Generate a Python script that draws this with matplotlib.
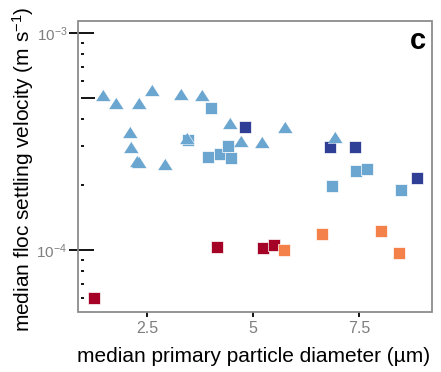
import matplotlib
matplotlib.use('Agg')
import matplotlib.pyplot as plt
from matplotlib.ticker import FixedLocator, NullFormatter, FixedFormatter
from matplotlib.patches import Rectangle

plt.rcParams['font.family'] = ['Liberation Sans', 'DejaVu Sans']
plt.rcParams['mathtext.fontset'] = 'custom'
plt.rcParams['mathtext.rm'] = 'Liberation Sans'
plt.rcParams['mathtext.it'] = 'Liberation Sans:italic'

# light blue triangles
tri_x = [1.46, 1.75, 2.30, 2.61, 3.30, 3.78, 4.46, 2.08, 2.11, 2.25, 2.30,
         2.92, 3.44, 4.71, 5.20, 5.74, 6.94]
tri_v = [5.18e-4, 4.74e-4, 4.77e-4, 5.46e-4, 5.24e-4, 5.15e-4, 3.85e-4,
         3.51e-4, 2.99e-4, 2.58e-4, 2.55e-4, 2.49e-4, 3.27e-4, 3.18e-4,
         3.15e-4, 3.70e-4, 3.31e-4]

# light blue squares
lb_x = [4.00, 3.45, 3.92, 4.22, 4.41, 4.47, 7.43, 7.68, 6.87, 8.49]
lb_v = [4.50e-4, 3.20e-4, 2.67e-4, 2.77e-4, 3.01e-4, 2.65e-4, 2.31e-4,
        2.35e-4, 1.98e-4, 1.89e-4]

# dark blue squares
db_x = [4.81, 6.81, 7.39, 8.86]
db_v = [3.69e-4, 2.99e-4, 2.97e-4, 2.14e-4]

# dark red squares
dr_x = [4.14, 5.24, 5.48, 1.24]
dr_v = [1.029e-4, 1.026e-4, 1.054e-4, 5.99e-5]

# orange squares
or_x = [5.73, 6.63, 8.01, 8.44]
or_v = [1.00e-4, 1.18e-4, 1.22e-4, 9.72e-5]

x_ticks = [2.5, 5, 7.5]
x_tick_labels = ['2.5', '5', '7.5']
y_ticks = [1e-4, 1e-3]
y_tick_labels = [r'$10^{-4}$', r'$10^{-3}$']

light_blue = '#6ba6d0'
dark_blue = '#2f3f96'
dark_red = '#a50026'
orange = '#f4814a'
grey = '#7f7f7f'

tri_marker = [(-1, -0.78), (1, -0.78), (0, 0.78)]

fig = plt.figure(figsize=(4.41, 3.72), dpi=100)
ax = fig.add_axes([78 / 441, 60 / 372, 354 / 441, 291 / 372])

sq = dict(linestyle='none', marker='s', ms=8.3, mec='white', mew=0.5, zorder=2)
ax.plot(lb_x, lb_v, color=light_blue, **sq)
ax.plot(db_x, db_v, color=dark_blue, **sq)
ax.plot(dr_x, dr_v, color=dark_red, **sq)
ax.plot(or_x, or_v, color=orange, **sq)
ax.plot(tri_x, tri_v, linestyle='none', marker=tri_marker, ms=10.8,
        color=light_blue, mec='white', mew=0.4, zorder=3)

ax.set_yscale('log')
ax.set_xlim(0.86, 9.22)
ax.set_ylim(5.18e-5, 1.135e-3)

# frame drawn as a grey box, y axis sits a bit inside it
for s in ax.spines.values():
    s.set_visible(False)
ax.add_patch(Rectangle((0, 0), 1, 1, transform=ax.transAxes, fill=False,
                       edgecolor='#8c8c8c', lw=1.3, clip_on=False, zorder=5))
ax.spines['left'].set_position(('axes', 0.009))

ax.yaxis.set_major_locator(FixedLocator(y_ticks))
ax.yaxis.set_major_formatter(FixedFormatter(y_tick_labels))
ax.yaxis.set_minor_locator(FixedLocator([6e-5, 7e-5, 8e-5, 9e-5, 2e-4, 3e-4,
                                         4e-4, 6e-4, 7e-4, 8e-4, 9e-4]))
ax.yaxis.set_minor_formatter(NullFormatter())
ax.tick_params(axis='y', which='major', direction='inout', length=18,
               width=1.3, color='black', labelcolor=grey, labelsize=11, pad=1)
ax.tick_params(axis='y', which='minor', direction='in', length=2.5,
               width=1.3, color='black')

sec = ax.secondary_yaxis(0.009)
sec.spines['right'].set_visible(False)
sec.spines['left'].set_visible(False)
sec.yaxis.set_major_locator(FixedLocator([5e-4]))
sec.yaxis.set_major_formatter(NullFormatter())
sec.yaxis.set_minor_locator(FixedLocator([]))
sec.tick_params(axis='y', which='major', direction='in', length=10,
                width=1.3, color='black')

ax.set_xticks(x_ticks)
ax.set_xticklabels(x_tick_labels)
ax.tick_params(axis='x', direction='out', length=3.5, width=1.3,
               color='black', labelcolor=grey, labelsize=11.5, pad=3)

fig.text(254 / 441, 1 - 357 / 372, 'median primary particle diameter (\u00b5m)',
         ha='center', va='center', fontsize=15)
fig.text(23 / 441, 1 - 169 / 372, r'median floc settling velocity (m s$^{-1}$)',
         ha='center', va='center', rotation=90, fontsize=15)
fig.text(418 / 441, 1 - 41 / 372, 'c', ha='center', va='center',
         fontsize=21, fontweight='bold')

fig.savefig('out.png', dpi=100)
